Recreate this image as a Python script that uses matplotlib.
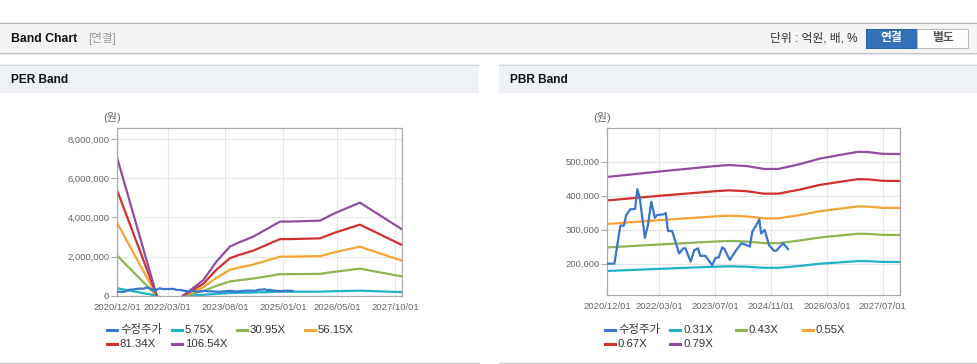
import numpy as np
import pandas as pd
import matplotlib
matplotlib.use("Agg")
import matplotlib.pyplot as plt
from matplotlib.patches import Rectangle
from matplotlib.lines import Line2D
from matplotlib.ticker import FuncFormatter

plt.rcParams['font.family'] = ['Liberation Sans', 'Noto Sans CJK KR']

W, H = 978, 364

# 수정주가 (same series in both charts)
price_dates = ['2020-12-01', '2021-02-01', '2021-03-25', '2021-04-25', '2021-05-15', '2021-06-20',
               '2021-08-01', '2021-08-20', '2021-09-10', '2021-10-25', '2021-11-20', '2021-12-20',
               '2022-01-20', '2022-02-10', '2022-04-05', '2022-04-25', '2022-05-15', '2022-06-20',
               '2022-08-20', '2022-09-25', '2022-10-15', '2022-11-28', '2022-12-31', '2023-02-01',
               '2023-02-20', '2023-04-05', '2023-06-05', '2023-07-01', '2023-08-01', '2023-09-01',
               '2023-09-20', '2023-11-05', '2024-01-01', '2024-02-15', '2024-03-28', '2024-04-28',
               '2024-05-20', '2024-06-25', '2024-07-20', '2024-08-05', '2024-09-05', '2024-10-12',
               '2024-11-25', '2024-12-15', '2025-02-12', '2025-02-25', '2025-03-28']
price = [200000, 200000, 312000, 312000, 343000, 360000,
         361000, 419000, 394000, 276000, 312000, 382000,
         335000, 343000, 345000, 349000, 296000, 296000,
         230000, 245000, 245000, 206000, 240000, 245000,
         223000, 223000, 196000, 216000, 219000, 248000,
         243000, 211000, 240000, 260000, 255000, 250000,
         294000, 314000, 330000, 289000, 299000, 255000,
         238000, 238000, 260000, 255000, 243000]

# PER band
per_names = ['수정주가', '5.75X', '30.95X', '56.15X', '81.34X', '106.54X']
per_dates = ['2020-12-01', '2021-11-20', '2022-03-01', '2022-07-18', '2023-01-15', '2023-05-12',
             '2023-09-10', '2023-11-25', '2024-04-07', '2024-12-03', '2025-03-01', '2025-11-28',
             '2026-04-01', '2026-11-20', '2027-12-01']
per_575 = [382100, 3000, np.nan, 0, 43200, 93900, 135500, 146300, 163000, 204500, 204500, 207200,
           226700, 256900, 183500]
per_3095 = [2056700, 17000, np.nan, 0, 232400, 505500, 729200, 787300, 877300, 1101000, 1101000,
            1115500, 1220100, 1382800, 987700]
per_5615 = [3731200, 32000, np.nan, 0, 421600, 917000, 1322800, 1428200, 1591500, 1997300, 1997300,
            2023700, 2213400, 2508500, 1791800]
per_8134 = [5405600, 46000, np.nan, 0, 610800, 1328500, 1916400, 2069100, 2305800, 2893700, 2893700,
            2931800, 3206700, 3634300, 2595900]
per_10654 = [7080000, 60000, np.nan, 0, 800000, 1740000, 2510000, 2710000, 3020000, 3790000, 3790000,
             3840000, 4200000, 4760000, 3400000]
per_ticks = ['2020-12-01', '2022-03-01', '2023-08-01', '2025-01-01', '2026-05-01', '2027-10-01']

# PBR band
pbr_names = ['수정주가', '0.31X', '0.43X', '0.55X', '0.67X', '0.79X']
pbr_dates = ['2020-12-01', '2022-03-01', '2023-07-01', '2023-11-01', '2024-04-01', '2024-09-01',
             '2025-01-01', '2025-07-01', '2026-01-01', '2026-07-01', '2026-12-01', '2027-03-01',
             '2027-07-01', '2027-12-01']
pbr_031 = [178500, 184800, 191100, 192300, 191100, 187800, 187800, 193100, 199700, 204000, 207600,
           207200, 205200, 205000]
pbr_043 = [247700, 256400, 265100, 266700, 265100, 260400, 260400, 267800, 277000, 283000, 287900,
           287400, 284700, 284400]
pbr_055 = [316800, 327900, 339000, 341100, 339000, 333100, 333100, 342500, 354400, 362000, 368300,
           367600, 364100, 363800]
pbr_067 = [385900, 399500, 413000, 415600, 413000, 405800, 405800, 417300, 431700, 441000, 448600,
           447800, 443600, 443100]
pbr_079 = [455000, 471000, 487000, 490000, 487000, 478500, 478500, 492000, 509000, 520000, 529000,
           528000, 523000, 522500]
pbr_ticks = ['2020-12-01', '2022-03-01', '2023-07-01', '2024-11-01', '2026-03-01', '2027-07-01']

colors = ['#3a76cc', '#1fb3c9', '#8db652', '#f4a433', '#d1302f', '#914d9f']

fig = plt.figure(figsize=(W / 100, H / 100), dpi=100)
fig.patch.set_facecolor('white')


def fx(x):
    return x / W


def fy(y):
    return 1 - y / H


def rect(x0, y0, x1, y1, **kw):
    fig.add_artist(Rectangle((fx(x0), fy(y1)), fx(x1) - fx(x0), fy(y0) - fy(y1),
                             transform=fig.transFigure, **kw))


def hline(x0, x1, y, color, lw=0.75):
    fig.add_artist(Line2D([fx(x0), fx(x1)], [fy(y), fy(y)], transform=fig.transFigure,
                          color=color, lw=lw))


# top bar
rect(0, 22, 978, 53, facecolor='#f4f4f4', edgecolor='none')
hline(0, 978, 22.5, '#b5b5b5')
hline(0, 978, 53, '#c6c6c6')
hline(0, 978, 54, '#e6e6e6')
fig.text(fx(11), fy(38.5), 'Band Chart', fontsize=8.8, weight='bold', color='#111', va='center')
fig.text(fx(88), fy(38.5), '[연결]', fontsize=8.3, color='#999999', va='center')
fig.text(fx(858), fy(38.5), '단위 : 억원, 배, %', fontsize=8.5, color='#333333', va='center', ha='right')
rect(866, 29, 917, 48, facecolor='#3370b7', edgecolor='#2c64a6', lw=0.75)
rect(917, 29, 968, 48, facecolor='white', edgecolor='#bbbbbb', lw=0.75)
fig.text(fx(891.5), fy(38.5), '연결', fontsize=8.5, color='white', weight='bold', ha='center', va='center')
fig.text(fx(942.5), fy(38.5), '별도', fontsize=8.5, color='#555555', weight='bold', ha='center', va='center')

# panel headers
for x0, x1, title in [(0, 479, 'PER Band'), (499, 978, 'PBR Band')]:
    rect(x0, 64, x1, 93, facecolor='#eef2f7', edgecolor='none')
    hline(x0, x1, 64.5, '#d4d4d4')
    hline(x0, x1, 363, '#cccccc')
    fig.text(fx(x0 + 11), fy(80), title, fontsize=8.6, weight='bold', color='#111', va='center')


def draw_chart(box, price_x, band_x, bands, ylim, yticks, xticks):
    ax = fig.add_axes(box)
    for vals, c in zip(bands, colors[1:]):
        ax.plot(band_x, vals, color=c, lw=1.6, solid_joinstyle='round')
    ax.plot(price_x, price, color=colors[0], lw=1.6, zorder=5)
    ax.set_xlim(pd.Timestamp('2020-12-01'), pd.Timestamp('2027-12-03'))
    ax.set_ylim(*ylim)
    ax.set_yticks(yticks)
    ax.yaxis.set_major_formatter(FuncFormatter(lambda v, p: f'{int(v):,}'))
    ax.set_xticks(pd.to_datetime(xticks))
    ax.set_xticklabels([t.replace('-', '/') for t in xticks])
    ax.grid(True, color='#e6e6e6', lw=0.8)
    ax.set_axisbelow(True)
    for s in ax.spines.values():
        s.set_color('#aaaaaa')
        s.set_linewidth(0.9)
    ax.tick_params(axis='y', length=4, color='#aaaaaa', width=0.8, pad=1.5, labelsize=6.8, labelcolor='#666666')
    ax.tick_params(axis='x', length=0, pad=5, labelsize=6.8, labelcolor='#666666')
    return ax


price_x = pd.to_datetime(price_dates)

draw_chart([fx(117), fy(295.7), (402 - 117) / W, (295.7 - 128.3) / H], price_x,
           pd.to_datetime(per_dates), [per_575, per_3095, per_5615, per_8134, per_10654],
           (0, 8560000), [0, 2000000, 4000000, 6000000, 8000000], per_ticks)
draw_chart([fx(607.3), fy(295.3), (900.3 - 607.3) / W, (295.3 - 128.3) / H], price_x,
           pd.to_datetime(pbr_dates), [pbr_031, pbr_043, pbr_055, pbr_067, pbr_079],
           (107000, 598000), [200000, 300000, 400000, 500000], pbr_ticks)

fig.text(fx(112), fy(117.5), '(원)', fontsize=8, color='#666666', ha='center', va='center')
fig.text(fx(602), fy(117.5), '(원)', fontsize=8, color='#666666', ha='center', va='center')


# legends
def legend(cols, names):
    for i, name in enumerate(names):
        row, col = divmod(i, 4)
        x = cols[col]
        y = 330 + row * 14
        fig.add_artist(Line2D([fx(x), fx(x + 10)], [fy(y), fy(y)], color=colors[i], lw=2.2,
                              transform=fig.transFigure))
        fig.text(fx(x + 13), fy(y), name, fontsize=8.2, color='#333333', va='center')


legend([107, 172, 237, 305], per_names)
legend([605, 670, 736, 803], pbr_names)

fig.savefig('out.png', dpi=100)
